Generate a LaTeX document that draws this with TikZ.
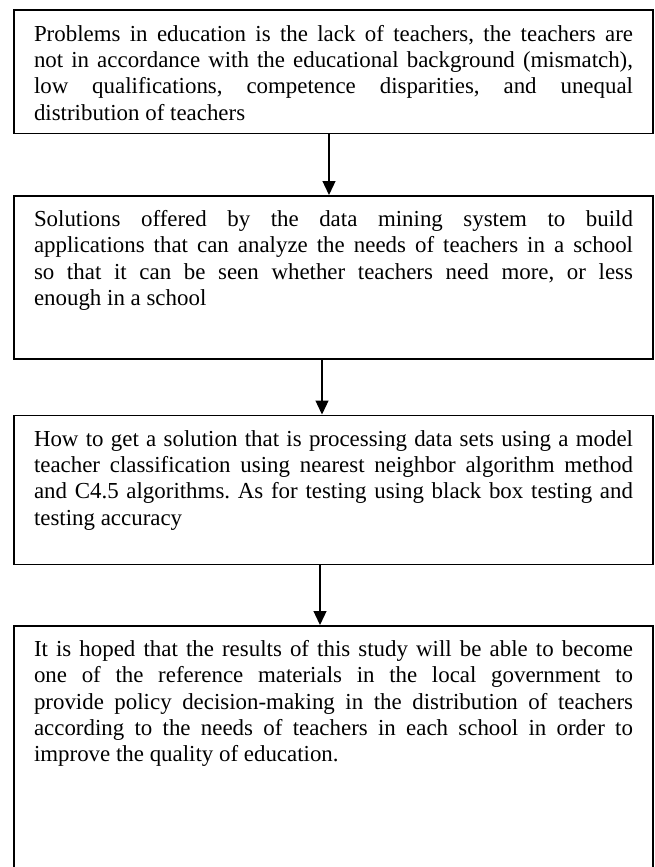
\documentclass[tikz,border=0pt]{standalone}
\usepackage{fontspec}
\setmainfont{Liberation Serif}
\usetikzlibrary{arrows.meta,positioning}
\frenchspacing
\newcommand{\stagetext}[2]{\parbox[c][#1][t]{599pt}{\strut #2}}

\begin{document}
\begin{tikzpicture}[x=1pt,y=1pt,
  stage/.style={draw,line width=1.5pt,inner xsep=20pt,inner ysep=12.5pt,
    font=\fontsize{22.9pt}{26.3pt}\selectfont},
  node distance=61pt]
\useasboundingbox (0,0) rectangle (655,-867);
\node[stage,anchor=north] (prob) at (333.5,-9.5) {\stagetext{98pt}{Problems in education is the lack of teachers, the teachers are\linebreak
  not in accordance with the educational background (mismatch),\linebreak
  low qualifications, competence disparities, and unequal\linebreak
  distribution of teachers}};
\node[stage,below=of prob] (sol) {\stagetext{138pt}{Solutions offered by the data mining system to build\linebreak
  applications that can analyze the needs of teachers in a school\linebreak
  so that it can be seen whether teachers need more, or less\linebreak
  enough in a school}};
\node[stage,below=55pt of sol] (how) {\stagetext{124pt}{How to get a solution that is processing data sets using a model\linebreak
  teacher classification using nearest neighbor algorithm method\linebreak
  and C4.5 algorithms. As for testing using black box testing and\linebreak
  testing accuracy}};
\node[stage,below=60pt of how] (hope) {\stagetext{234pt}{It is hoped that the results of this study will be able to become\linebreak
  one of the reference materials in the local government to\linebreak
  provide policy decision-making in the distribution of teachers\linebreak
  according to the needs of teachers in each school in order to\linebreak
  improve the quality of education.}};
%
\draw[->,>={Triangle[length=14pt,width=13pt]},line width=1.3pt] ([xshift=-4.5pt]prob.south) to ([xshift=-4.5pt]sol.north);
\draw[->,>={Triangle[length=14pt,width=13pt]},line width=1.3pt] ([xshift=-11.5pt]sol.south) to ([xshift=-11.5pt]how.north);
\draw[->,>={Triangle[length=14pt,width=13pt]},line width=1.3pt] ([xshift=-13.5pt]how.south) to ([xshift=-13.5pt]hope.north);
\end{tikzpicture}
\end{document}
